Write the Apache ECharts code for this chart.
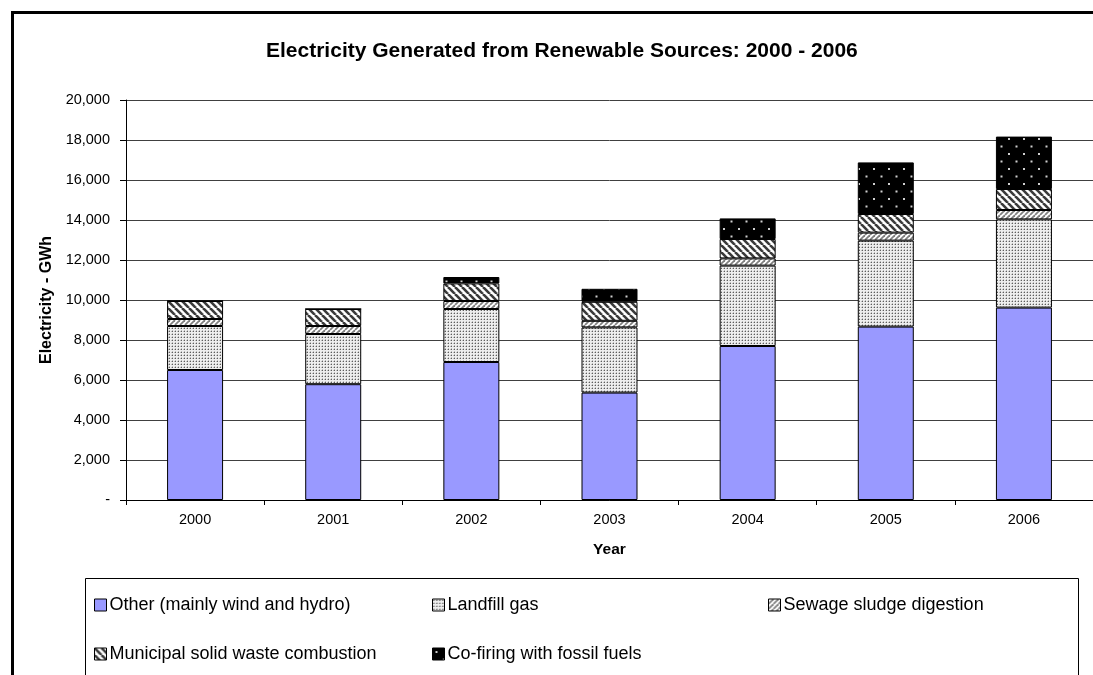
<!DOCTYPE html>
<html>
<head>
<meta charset="utf-8">
<script src="https://cdn.jsdelivr.net/npm/echarts@6/dist/echarts.min.js"></script>
<style>
  html, body { margin: 0; padding: 0; background: #ffffff; }
  #chart { width: 1093px; height: 675px; }
</style>
</head>
<body>
<div id="chart"></div>
<script>
// Electricity generated from renewable sources, GWh
const years = ['2000', '2001', '2002', '2003', '2004', '2005', '2006'];
const otherWindHydro = [6500, 5790, 6900, 5370, 7700, 8670, 9620];
const landfillGas = [2200, 2510, 2650, 3260, 4020, 4300, 4410];
const sewageSludge = [350, 400, 400, 330, 360, 400, 470];
const municipalWaste = [900, 850, 880, 950, 970, 930, 1050];
const coFiring = [0, 0, 320, 650, 1030, 2580, 2620];
const yTicks = { min: 0, max: 20000, step: 2000 };

const FONT = '"Liberation Sans", Arial, Helvetica, sans-serif';

// Fill patterns drawn on small tiles
function tile(w, h, draw) {
  const c = document.createElement('canvas');
  c.width = w; c.height = h;
  const g = c.getContext('2d');
  draw(g, w, h);
  return { image: c, repeat: 'repeat' };
}
const fillLandfill = tile(3, 3, (g) => {
  g.fillStyle = '#eeeeee'; g.fillRect(0, 0, 3, 3);
  g.fillStyle = '#bdbdbd'; g.fillRect(0, 1, 1, 1); g.fillRect(1, 0, 1, 1);
  g.fillStyle = '#5e5e5e'; g.fillRect(1, 1, 1, 1);
});
const fillSewage = tile(5, 5, (g, w, h) => {
  g.fillStyle = '#ffffff'; g.fillRect(0, 0, w, h);
  g.strokeStyle = '#808080'; g.lineWidth = 1.8;
  for (let k = -1; k <= 1; k++) {
    g.beginPath(); g.moveTo(k * w, h); g.lineTo(k * w + w, 0); g.stroke();
  }
});
const fillMunicipal = tile(7, 7, (g, w, h) => {
  g.fillStyle = '#ffffff'; g.fillRect(0, 0, w, h);
  g.strokeStyle = '#3a3a3a'; g.lineWidth = 2.6;
  for (let k = -1; k <= 1; k++) {
    g.beginPath(); g.moveTo(k * w, 0); g.lineTo(k * w + w, h); g.stroke();
  }
});
const fillCoFiring = tile(15, 15, (g) => {
  g.fillStyle = '#000000'; g.fillRect(0, 0, 15, 15);
  g.fillStyle = '#d0d0d0';
  g.fillRect(3, 3, 2, 2);
  g.fillRect(10.5, 10.5, 2, 2);
});

const seriesDefs = [
  { name: 'Other (mainly wind and hydro)', data: otherWindHydro, color: '#9999ff' },
  { name: 'Landfill gas', data: landfillGas, color: fillLandfill },
  { name: 'Sewage sludge digestion', data: sewageSludge, color: fillSewage },
  { name: 'Municipal solid waste combustion', data: municipalWaste, color: fillMunicipal },
  { name: 'Co-firing with fossil fuels', data: coFiring, color: fillCoFiring }
];

// Legend placement: two rows, three columns
const legendSlots = [
  { left: 94, top: 596 },
  { left: 432, top: 596 },
  { left: 768, top: 596 },
  { left: 94, top: 645 },
  { left: 432, top: 645 }
];

const chart = echarts.init(document.getElementById('chart'), null, { renderer: 'canvas' });

chart.setOption({
  backgroundColor: '#ffffff',
  animation: false,
  title: {
    text: 'Electricity Generated from Renewable Sources: 2000 - 2006',
    left: 261,
    top: 36,
    textStyle: { fontFamily: FONT, fontSize: 21, fontWeight: 'bold', color: '#000' }
  },
  legend: seriesDefs.map((s, i) => ({
    data: [s.name],
    left: legendSlots[i].left,
    top: legendSlots[i].top,
    padding: 0,
    itemWidth: 12,
    itemHeight: 12,
    itemGap: 4,
    icon: 'rect',
    selectedMode: false,
    itemStyle: { borderColor: '#000', borderWidth: 1 },
    textStyle: { fontFamily: FONT, fontSize: 18, color: '#000', padding: [0, 0, 0, -2] }
  })),
  grid: { left: 126, top: 100, width: 968, height: 400 },
  xAxis: {
    type: 'category',
    data: years,
    name: 'Year',
    nameLocation: 'middle',
    nameGap: 42,
    nameTextStyle: { fontFamily: FONT, fontSize: 15.5, fontWeight: 'bold', color: '#000' },
    axisLine: { lineStyle: { color: '#000', width: 1 } },
    axisTick: { show: true, length: 5, interval: 0, lineStyle: { color: '#000' } },
    axisLabel: { fontFamily: FONT, fontSize: 14.5, color: '#000', margin: 12, interval: 0 }
  },
  yAxis: {
    type: 'value',
    min: yTicks.min,
    max: yTicks.max,
    interval: yTicks.step,
    name: 'Electricity - GWh',
    nameLocation: 'middle',
    nameGap: 68,
    nameRotate: 90,
    nameTextStyle: { fontFamily: FONT, fontSize: 16, fontWeight: 'bold', color: '#000' },
    axisLine: { show: true, lineStyle: { color: '#000', width: 1 } },
    axisTick: { show: true, length: 6, lineStyle: { color: '#000' } },
    axisLabel: {
      fontFamily: FONT, fontSize: 14.5, color: '#000', margin: 16,
      formatter: (v) => (v === 0 ? '-' : v.toLocaleString('en-US'))
    },
    splitLine: { show: true, lineStyle: { color: '#404040', width: 1 } }
  },
  series: seriesDefs.map((s) => ({
    name: s.name,
    type: 'bar',
    stack: 'total',
    barWidth: 56,
    data: s.data,
    itemStyle: { color: s.color, borderColor: '#000', borderWidth: 1 },
    emphasis: { disabled: true }
  })),
  graphic: [
    {
      type: 'rect',
      shape: { x: 12.5, y: 12.5, width: 1100, height: 700 },
      style: { fill: null, stroke: '#000', lineWidth: 3 },
      silent: true, z: 100
    },
    {
      type: 'rect',
      shape: { x: 85.5, y: 578.5, width: 993, height: 120 },
      style: { fill: null, stroke: '#000', lineWidth: 1 },
      silent: true, z: -1
    }
  ]
});
</script>
</body>
</html>
